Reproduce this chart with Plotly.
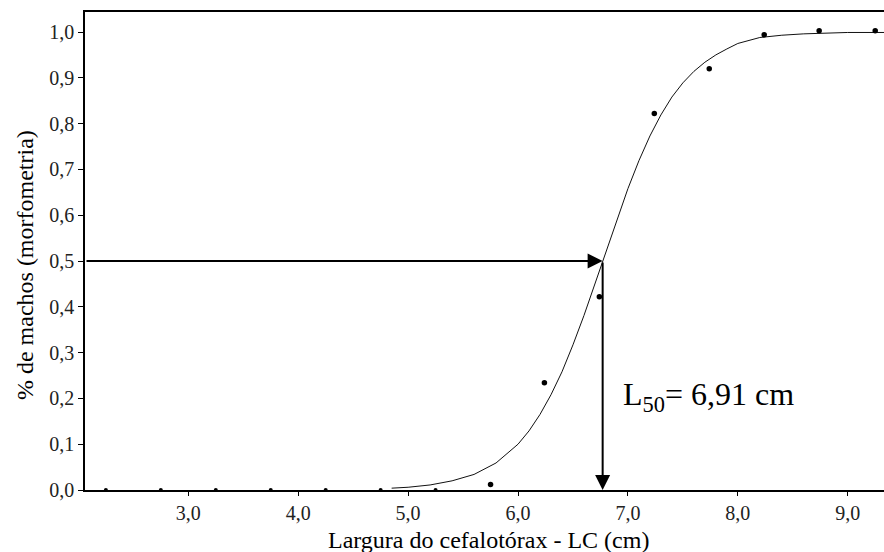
import plotly.graph_objects as go

# Observed proportions of morphometrically mature males by width class
obs_x = [5.75, 6.24, 6.74, 7.24, 7.74, 8.24, 8.74, 9.25]
obs_y = [0.012, 0.234, 0.422, 0.822, 0.920, 0.994, 1.003, 1.003]

# Width classes with zero proportion
zero_x = [2.25, 2.75, 3.25, 3.75, 4.25, 4.75, 5.25]
zero_y = [0, 0, 0, 0, 0, 0, 0]

# Fitted curve
curve_x = [4.85, 5.0, 5.2, 5.4, 5.6, 5.8, 6.0, 6.1, 6.2, 6.3, 6.4, 6.5, 6.6, 6.7,
           6.8, 6.9, 7.0, 7.1, 7.2, 7.3, 7.4, 7.5, 7.6, 7.7, 7.8, 7.9, 8.0, 8.2,
           8.4, 8.6, 8.8, 9.0, 9.33]
curve_y = [0.004, 0.006, 0.011, 0.020, 0.034, 0.059, 0.100, 0.129, 0.165, 0.208,
           0.258, 0.317, 0.381, 0.450, 0.521, 0.592, 0.658, 0.719, 0.773, 0.819,
           0.858, 0.889, 0.914, 0.934, 0.950, 0.963, 0.975, 0.988, 0.993, 0.996,
           0.998, 0.999, 0.999]

x_ticks = [3, 4, 5, 6, 7, 8, 9]
y_ticks = [0.0, 0.1, 0.2, 0.3, 0.4, 0.5, 0.6, 0.7, 0.8, 0.9, 1.0]

arrow_x = 6.77      # position where the arrows meet the curve
arrow_y = 0.5
label_text = "L<sub>50</sub>= 6,91 cm"
x_title = "Largura do cefalotórax - LC (cm)"
y_title = "% de machos (morfometria)"

FONT = "Liberation Serif, Times New Roman, serif"

fig = go.Figure()
fig.add_trace(go.Scatter(x=curve_x, y=curve_y, mode="lines",
                         line=dict(color="#111111", width=1), hoverinfo="skip"))
fig.add_trace(go.Scatter(x=obs_x, y=obs_y, mode="markers",
                         marker=dict(color="black", size=5.5), cliponaxis=True))
fig.add_trace(go.Scatter(x=zero_x, y=zero_y, mode="markers",
                         marker=dict(color="black", size=4), cliponaxis=True))

x_min, x_max = 2.06, 9.33
y_min, y_max = 0.0, 1.0437

annotations = [
    # horizontal arrow from the y axis to the curve
    dict(x=arrow_x, y=arrow_y, ax=x_min, ay=arrow_y, xref="x", yref="y",
         axref="x", ayref="y", showarrow=True, arrowhead=2, arrowsize=1.5,
         arrowwidth=2, arrowcolor="black", text=""),
    # vertical arrow from the curve down to the x axis
    dict(x=arrow_x, y=0.0, ax=arrow_x, ay=arrow_y, xref="x", yref="y",
         axref="x", ayref="y", showarrow=True, arrowhead=2, arrowsize=1.5,
         arrowwidth=2, arrowcolor="black", text=""),
    dict(x=6.94, y=0.205, xref="x", yref="y", text=label_text, showarrow=False,
         xanchor="left", yanchor="middle",
         font=dict(family=FONT, size=32, color="black")),
    dict(x=0.5044, y=-0.104, xref="paper", yref="paper", text=x_title,
         showarrow=False, xanchor="center", yanchor="middle",
         font=dict(family=FONT, size=24, color="black")),
    dict(x=-0.075, y=0.4707, xref="paper", yref="paper", text=y_title,
         showarrow=False, xanchor="center", yanchor="middle", textangle=-90,
         font=dict(family=FONT, size=24, color="black")),
]

fig.update_layout(
    width=884, height=552,
    margin=dict(l=85, r=0, t=12, b=62),
    paper_bgcolor="white", plot_bgcolor="white",
    showlegend=False,
    separators=",.",
    font=dict(family=FONT, size=20, color="black"),
    annotations=annotations,
    xaxis=dict(range=[x_min, x_max], tickvals=x_ticks, tickformat=".1f",
               ticks="outside", ticklen=4, tickwidth=1, tickcolor="black",
               showline=True, linecolor="black", linewidth=1.5, mirror=True,
               showgrid=False, zeroline=False,
               tickfont=dict(family=FONT, size=20, color="#222222")),
    yaxis=dict(range=[y_min, y_max], tickvals=y_ticks, tickformat=".1f",
               ticks="outside", ticklen=5, tickwidth=1, tickcolor="black",
               showline=True, linecolor="black", linewidth=1.5,
               showgrid=False, zeroline=False,
               tickfont=dict(family=FONT, size=20, color="#222222")),
)

fig.write_html("out.html")
